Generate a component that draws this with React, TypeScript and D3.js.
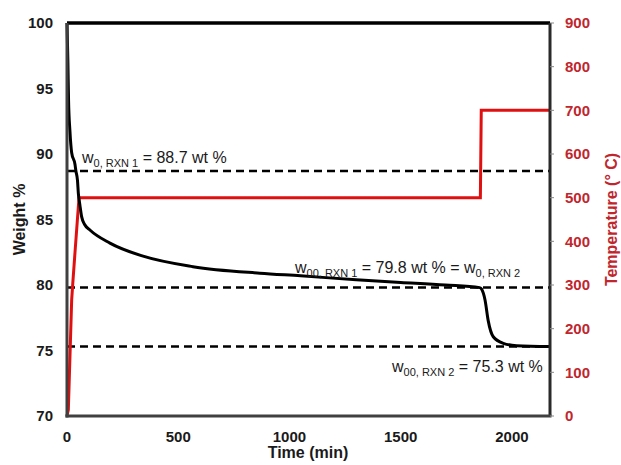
import React from "react";
import * as d3 from "d3";

const weightTime = [0, 4, 7, 13, 21, 36, 40, 47, 51, 58, 66, 80, 103, 193, 342, 566, 867, 1050, 1300, 1500, 1700, 1855, 1864, 1879, 1893, 1916, 1961, 2021, 2171];
const weightValue = [100, 97, 94.1, 91.8, 90.1, 89.2, 88.7, 88.0, 87.0, 86.1, 85.2, 84.6, 84.2, 83.2, 82.2, 81.4, 80.9, 80.7, 80.4, 80.2, 80.0, 79.8, 79.67, 78.85, 77.3, 76.05, 75.55, 75.37, 75.3];
const tempTime = [0, 6, 21, 27, 36, 54, 1858, 1862, 2171];
const tempValue = [0, 14, 266, 311, 375, 500, 500, 700, 700];
const refLevels = [88.7, 79.8, 75.3];
const xTicks = [0, 500, 1000, 1500, 2000];
const yLeftTicks = [70, 75, 80, 85, 90, 95, 100];
const yRightTicks = [0, 100, 200, 300, 400, 500, 600, 700, 800, 900];

const W = 621, H = 465;
const L = 67, R = 550, T = 23, B = 416;
const RED_LINE = "#e01010";
const RED_TEXT = "#c0262d";
const FONT = "'Liberation Sans', Arial, sans-serif";

export default function App() {
  const x = d3.scaleLinear().domain([0, 2171]).range([L, R]);
  const yL = d3.scaleLinear().domain([70, 100]).range([B, T]);
  const yR = d3.scaleLinear().domain([0, 900]).range([B, T]);

  const wData = weightTime.map((t, i) => [t, weightValue[i]] as [number, number]);
  const tData = tempTime.map((t, i) => [t, tempValue[i]] as [number, number]);
  const wLine = d3.line<[number, number]>().x(d => x(d[0])).y(d => yL(d[1])).curve(d3.curveMonotoneX);
  const tLine = d3.line<[number, number]>().x(d => x(d[0])).y(d => yR(d[1]));

  const sub = { fontSize: 11 } as const;

  return (
    <svg width={W} height={H} style={{ position: "absolute", left: 0, top: 0, background: "#fff" }} fontFamily={FONT}>
      <rect x={0} y={0} width={W} height={H} fill="#fff" />
      {refLevels.map(v => (
        <line key={v} x1={L} x2={R} y1={yL(v)} y2={yL(v)} stroke="#000" strokeWidth={2.5} strokeDasharray="8,5" />
      ))}
      <path d={tLine(tData) || ""} fill="none" stroke={RED_LINE} strokeWidth={3} strokeLinejoin="miter" />
      <path d={wLine(wData) || ""} fill="none" stroke="#000" strokeWidth={3} />
      <line x1={L} x2={R} y1={T} y2={T} stroke="#000" strokeWidth={3.5} />
      <line x1={R} x2={R} y1={T} y2={B} stroke="#2a2a2a" strokeWidth={3} />
      <line x1={L} x2={L} y1={T} y2={B + 1.5} stroke="#404040" strokeWidth={3} />
      <line x1={L - 1.5} x2={R + 1.5} y1={B} y2={B} stroke="#404040" strokeWidth={3} />
      {yLeftTicks.map(v => (
        <text key={v} x={53} y={yL(v)} dy="0.35em" textAnchor="end" fontSize={15} fontWeight="bold" fill="#1a1a1a">{v}</text>
      ))}
      {yRightTicks.map(v => (
        <g key={v}>
          <line x1={R} x2={R + 4} y1={yR(v)} y2={yR(v)} stroke="#888" strokeWidth={1} />
          <text x={565} y={yR(v)} dy="0.35em" textAnchor="start" fontSize={15} fontWeight="bold" fill={RED_TEXT}>{v}</text>
        </g>
      ))}
      {xTicks.map(v => (
        <text key={v} x={x(v)} y={437} dy="0.35em" textAnchor="middle" fontSize={15} fontWeight="bold" fill="#1a1a1a">{v}</text>
      ))}
      <text x={308} y={458} textAnchor="middle" fontSize={16} fontWeight="bold" fill="#1a1a1a">Time (min)</text>
      <text transform={`translate(25,${(T + B) / 2}) rotate(-90)`} textAnchor="middle" fontSize={16} fontWeight="bold" fill="#1a1a1a">Weight %</text>
      <text transform={`translate(617,${(T + B) / 2}) rotate(-90)`} textAnchor="middle" fontSize={16} fontWeight="bold" fill={RED_TEXT}>Temperature (° C)</text>
      <text x={82} y={163} fontSize={16} fill="#1a1a1a">
        w<tspan {...sub} dy={4}>0, RXN 1</tspan><tspan dy={-4}> = 88.7 wt %</tspan>
      </text>
      <text x={295} y={273} fontSize={16} fill="#1a1a1a">
        w<tspan {...sub} dy={4}>00, RXN 1</tspan><tspan dy={-4}> = 79.8 wt % = w</tspan><tspan {...sub} dy={4}>0, RXN 2</tspan>
      </text>
      <text x={392} y={372} fontSize={16} fill="#1a1a1a">
        w<tspan {...sub} dy={4}>00, RXN 2</tspan><tspan dy={-4}> = 75.3 wt %</tspan>
      </text>
    </svg>
  );
}
